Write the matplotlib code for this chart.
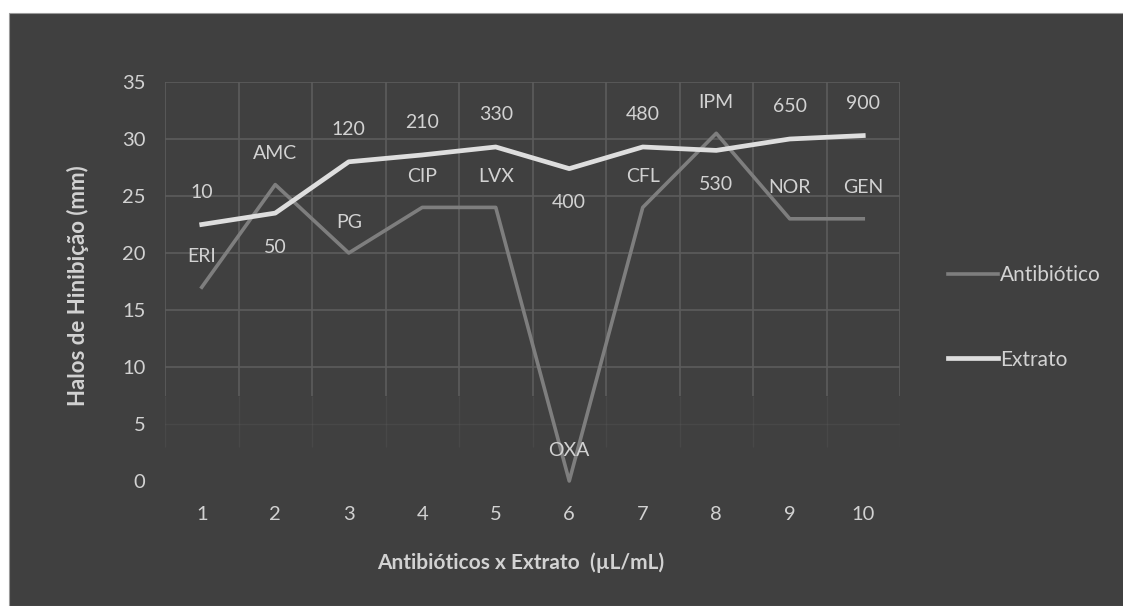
import matplotlib
matplotlib.use("Agg")
import matplotlib.pyplot as plt
from matplotlib.patches import Rectangle

# Data
positions = [1, 2, 3, 4, 5, 6, 7, 8, 9, 10]
antibiotico = [17, 26, 20, 24, 24, 0, 24, 30.5, 23, 23]
extrato = [22.5, 23.5, 28, 28.6, 29.3, 27.4, 29.3, 29, 30, 30.3]
antibiotic_names = ["ERI", "AMC", "PG", "CIP", "LVX", "OXA", "CFL", "IPM", "NOR", "GEN"]
extract_doses = ["10", "50", "120", "210", "330", "400", "480", "530", "650", "900"]
# label placement for the extract doses: True = above the point, False = below
dose_above = [True, False, True, True, True, False, True, False, True, True]
y_ticks = [0, 5, 10, 15, 20, 25, 30, 35]

BG = "#404040"
GRID = "#5c5c5c"
TEXT = "#d2d2d2"
ANTI_COLOR = "#7e7e7e"
EXTR_COLOR = "#dedede"
FONT = "Lato"

plt.rcParams["font.family"] = [FONT, "DejaVu Sans"]

fig = plt.figure(figsize=(11.23, 6.06), dpi=100, facecolor="white")
# dark panel with a thin white margin on top and left
fig.patches.append(Rectangle((9 / 1123, 0), 1, 1 - 13 / 606, transform=fig.transFigure,
                             facecolor=BG, edgecolor="#9a9a9a", linewidth=0.8, zorder=-5))

ax = fig.add_axes([165 / 1123, 1 - 481 / 606, (900 - 165) / 1123, (481 - 82) / 606])
ax.set_facecolor("none")
ax.set_xlim(0.5, 10.5)
ax.set_ylim(0, 35)
for s in ax.spines.values():
    s.set_visible(False)

# grid: strong in the upper part, fading towards the bottom
for yv in y_ticks:
    if yv >= 10:
        ax.axhline(yv, color=GRID, lw=1.2, zorder=1)
    elif yv == 5:
        ax.axhline(yv, color=GRID, lw=1.0, alpha=0.3, zorder=1)
bounds = [p - 0.5 for p in positions] + [positions[-1] + 0.5]
for xb in bounds:
    ax.vlines(xb, 7.5, 35, color=GRID, lw=1.2, zorder=1)
    ax.vlines(xb, 3, 7.5, color=GRID, lw=1.0, alpha=0.3, zorder=1)

ax.plot(positions, antibiotico, color=ANTI_COLOR, lw=2.6, zorder=3, clip_on=False,
        label="Antibiótico")
ax.plot(positions, extrato, color=EXTR_COLOR, lw=3.4, zorder=4, clip_on=False,
        label="Extrato")

lab_kw = dict(ha="center", va="center", color=TEXT, fontsize=14,
              textcoords="offset pixels", zorder=5)
for x, y, t in zip(positions, antibiotico, antibiotic_names):
    ax.annotate(t, (x, y), xytext=(0, 31), **lab_kw)
for x, y, t, up in zip(positions, extrato, extract_doses, dose_above):
    ax.annotate(t, (x, y), xytext=(0, 32 if up else -34), **lab_kw)

ax.set_xticks(positions)
ax.set_xticklabels([str(p) for p in positions])
ax.set_yticks(y_ticks)
ax.tick_params(axis="both", length=0, colors=TEXT, labelsize=14.5)
ax.tick_params(axis="x", pad=18)
ax.tick_params(axis="y", pad=14)

ax.set_xlabel("Antibióticos x Extrato  (µL/mL)", color=TEXT, fontsize=15,
              fontweight="bold")
ax.xaxis.set_label_coords(0.484, -0.18, transform=ax.transAxes)
ax.set_ylabel("Halos de Hinibição (mm)", color=TEXT, fontsize=16,
              fontweight="bold")
ax.yaxis.set_label_coords(-0.104, 0.49, transform=ax.transAxes)

leg = ax.legend(loc="center left", bbox_to_anchor=(1.04, 0.41), frameon=False,
                handlelength=2.4, handletextpad=0.1, labelspacing=3.1,
                fontsize=15, labelcolor=TEXT)

fig.savefig("out.png", dpi=100, facecolor=fig.get_facecolor())
